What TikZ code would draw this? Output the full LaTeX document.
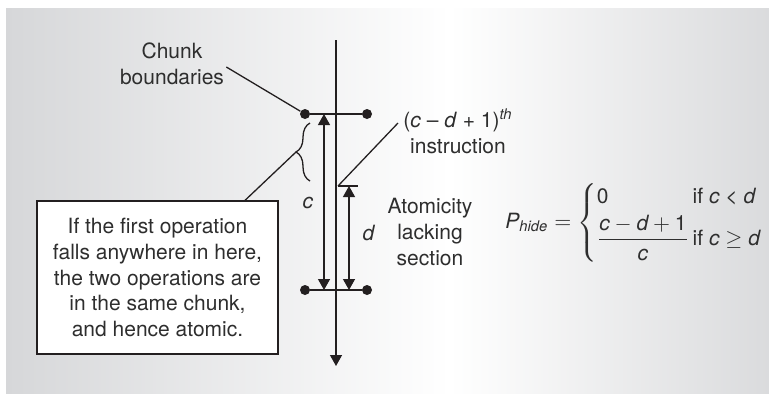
\documentclass[tikz,border=0pt]{standalone}
\usepackage{amsmath}
\usepackage{fontspec}
\setmainfont{TeX Gyre Heros}
\usetikzlibrary{arrows.meta,positioning,decorations.pathreplacing}
\definecolor{chink}{HTML}{231F20}
\definecolor{chtext}{HTML}{2E2E2E}
\definecolor{chgrey}{HTML}{D6D7D9}

\begin{document}
\begin{tikzpicture}[
  x=0.5pt,y=-0.5pt,
  every node/.style={font=\fontsize{10.5}{12.85}\selectfont,text=chtext,align=center,inner sep=0pt},
  line/.style={draw=chink,line width=0.65pt},
  onehead/.style={-{Triangle[length=5.5pt,width=6pt]}},
  twohead/.style={{Triangle[length=5.5pt,width=6pt]}-{Triangle[length=5.5pt,width=6pt]}},
  bdot/.style={circle,fill=chink,minimum size=5pt,inner sep=0pt},
  notebox/.style={draw=chink,line width=0.65pt,fill=white,minimum width=120.5pt,minimum height=76.5pt}
]
% panel
\useasboundingbox (0,0) rectangle (769,393);
\shade[left color=chgrey,right color=white] (6,8) rectangle (450,393);
\shade[left color=white,right color=chgrey!90!white] (449,8) rectangle (769,393);

% time axis and chunk boundaries
\coordinate (axtop) at (336,40);
\coordinate (axend) at (336,366);
\draw[line,onehead] (axtop) -- (axend);
\node[bdot] (tl) at (305,114) {};
\node[bdot] (tr) at (367,114) {};
\node[bdot] (bl) at (305,290) {};
\node[bdot] (br) at (367,290) {};
\draw[line] (tl) -- (tr);
\draw[line] (bl) -- (br);

% chunk length c and section length d
\coordinate (ctop) at (324,114);
\coordinate (cbot) at (324,290);
\draw[line,twohead] (ctop) -- (cbot);
\coordinate (dtop) at (349,186);
\coordinate (dbot) at (349,290);
\draw[line,twohead] (dtop) -- (dbot);
\coordinate (tickl) at (338,186);
\coordinate (tickr) at (358,186);
\draw[line] (tickl) -- (tickr);
\node (clab) at (308,203) {\textit{c}};
\node (dlab) at (369,233) {\textit{d}};
\node (sect) at (430,232) {Atomicity\\lacking\\section};

% labels with leaders
\node (chunk) at (172,64) {Chunk\\boundaries};
\draw[line] ([shift={(2,3)}]chunk.east) -- (tl);
\node (instr) at (458,131) {(\textit{c} – \textit{d} + 1)\textsuperscript{\textit{th}}\\instruction};
\coordinate (instrfoot) at (398,123);
\draw[line] (tickl) -- (instrfoot);

% brace and note
\draw[line,decorate,decoration={brace,amplitude=7pt,mirror}] (310,123) -- (310,181);
\coordinate (bracetip) at (296,152);
\node[notebox] (note) at (157.5,277.5) {If the first operation\\falls anywhere in here,\\the two operations are\\in the same chunk,\\and hence atomic.};
\draw[line] (bracetip) -- ([xshift=43.75pt]note.north);

% probability
\node[anchor=west] (phide) at (505,223) {$\textit{P}_{\textit{hide}} = \left\{\begin{array}{@{}l@{\,}l@{}}
  \mbox{0} & \mbox{if \textit{c} < \textit{d}}\\[2pt]
  \dfrac{\textit{c} - \textit{d} + \mbox{1}}{\textit{c}} & \mbox{if \textit{c} $\geq$ \textit{d}}
\end{array}\right.$};
\end{tikzpicture}
\end{document}
